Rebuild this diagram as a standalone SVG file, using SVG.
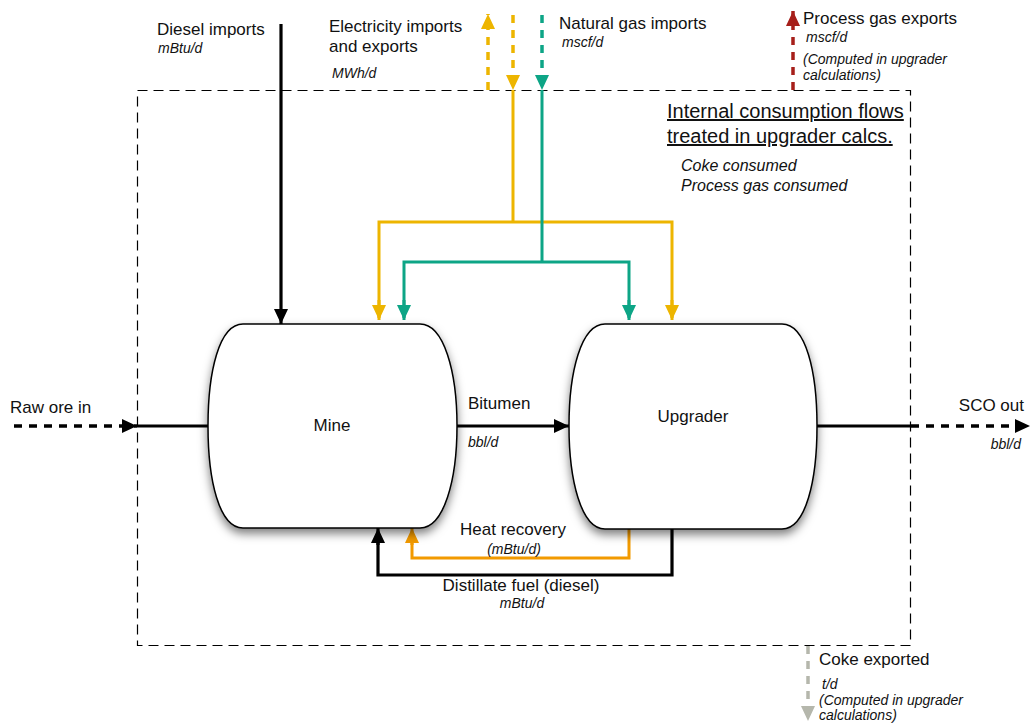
<svg xmlns="http://www.w3.org/2000/svg" width="1031" height="727" viewBox="0 0 1031 727">
<style>
text{font-family:"Liberation Sans",Arial,sans-serif;fill:#111}
.lb{font-size:17px}
.it{font-size:14px;font-style:italic}
.it2{font-size:16px;font-style:italic}
.hd{font-size:20px;text-decoration:underline}
.blk{stroke:#000;stroke-width:3.2;fill:none}
.yel{stroke:#EDB500;stroke-width:3;fill:none}
.grn{stroke:#0DA586;stroke-width:3;fill:none}
.org{stroke:#F29A00;stroke-width:3;fill:none}
.dsh{stroke-dasharray:8 7;stroke-width:3.5}
.node{fill:#fff;stroke:#000;stroke-width:1.5;filter:url(#sh)}
</style>
<defs>
<filter id="sh" x="-20%" y="-20%" width="140%" height="150%">
<feDropShadow dx="0" dy="5" stdDeviation="5" flood-color="#000" flood-opacity="0.5"/>
</filter>
<marker id="aB" markerUnits="userSpaceOnUse" markerWidth="16" markerHeight="14" refX="15" refY="7" orient="auto"><path d="M0,0 L15,7 L0,14 Z" fill="#000"/></marker>
<marker id="aY" markerUnits="userSpaceOnUse" markerWidth="16" markerHeight="14" refX="15" refY="7" orient="auto"><path d="M0,0 L15,7 L0,14 Z" fill="#EDB500"/></marker>
<marker id="aG" markerUnits="userSpaceOnUse" markerWidth="16" markerHeight="14" refX="15" refY="7" orient="auto"><path d="M0,0 L15,7 L0,14 Z" fill="#0DA586"/></marker>
<marker id="aO" markerUnits="userSpaceOnUse" markerWidth="16" markerHeight="14" refX="15" refY="7" orient="auto"><path d="M0,0 L15,7 L0,14 Z" fill="#F29A00"/></marker>
<marker id="aR" markerUnits="userSpaceOnUse" markerWidth="16" markerHeight="14" refX="15" refY="7" orient="auto"><path d="M0,0 L15,7 L0,14 Z" fill="#A61F1A"/></marker>
<marker id="aGr" markerUnits="userSpaceOnUse" markerWidth="16" markerHeight="14" refX="15" refY="7" orient="auto"><path d="M0,0 L15,7 L0,14 Z" fill="#B5B7AC"/></marker>
</defs>
<rect width="1031" height="727" fill="#fff"/>

<g id="boundary">
<rect x="137.5" y="90.5" width="773" height="555" fill="none" stroke="#000" stroke-width="1.2" stroke-dasharray="10 6"/>
<text class="hd" x="667" y="118">Internal consumption flows</text>
<text class="hd" x="667" y="143">treated in upgrader calcs.</text>
<text class="it2" x="681" y="171">Coke consumed</text>
<text class="it2" x="681" y="191">Process gas consumed</text>
</g>

<g id="connectors">
<line class="blk" x1="281" y1="24" x2="281" y2="324" marker-end="url(#aB)"/>
<line class="yel dsh" x1="488" y1="90" x2="488" y2="14" marker-end="url(#aY)"/>
<line class="yel dsh" x1="513" y1="15" x2="513" y2="90" marker-end="url(#aY)"/>
<path class="yel" d="M513,90 V222 M379,318 V222 H672 V318"/>
<line class="yel" x1="379" y1="300" x2="379" y2="320" marker-end="url(#aY)"/>
<line class="yel" x1="672" y1="300" x2="672" y2="320" marker-end="url(#aY)"/>
<line class="grn dsh" x1="542" y1="15" x2="542" y2="90" marker-end="url(#aG)"/>
<path class="grn" d="M542,90 V262 M404,318 V262 H629 V318"/>
<line class="grn" x1="404" y1="300" x2="404" y2="320" marker-end="url(#aG)"/>
<line class="grn" x1="629" y1="300" x2="629" y2="320" marker-end="url(#aG)"/>
<line class="dsh" stroke="#A61F1A" x1="793" y1="90" x2="793" y2="11" marker-end="url(#aR)"/>
<line class="dsh" stroke="#B5B7AC" x1="808" y1="646" x2="808" y2="721" marker-end="url(#aGr)"/>
<line class="blk dsh" x1="14" y1="426" x2="137" y2="426" marker-end="url(#aB)"/>
<line class="blk" x1="137" y1="426" x2="209" y2="426"/>
<line class="blk" x1="457" y1="426" x2="569" y2="426" marker-end="url(#aB)"/>
<line class="blk" x1="817" y1="426" x2="911" y2="426"/>
<line class="blk dsh" x1="911" y1="426" x2="1030" y2="426" marker-end="url(#aB)"/>
<path class="org" d="M629,529 V558 H412 V540"/>
<line class="org" x1="412" y1="545" x2="412" y2="528" marker-end="url(#aO)"/>
<path class="blk" d="M672,529 V575 H378 V540"/>
<line class="blk" x1="378" y1="545" x2="378" y2="528" marker-end="url(#aB)"/>
</g>

<g id="mine">
<path class="node" d="M243,324 H420 C444,324 457,372 457,426 C457,480 444,528 420,528 H243 C219,528 208,480 208,426 C208,372 219,324 243,324 Z"/>
<text class="lb" x="332" y="431" text-anchor="middle">Mine</text>
</g>

<g id="upgrader">
<path class="node" d="M605,324 H782 C806,324 817,372 817,426 C817,480 806,529 782,529 H605 C581,529 569,480 569,426 C569,372 581,324 605,324 Z"/>
<text class="lb" x="693" y="422" text-anchor="middle">Upgrader</text>
</g>

<g id="labels">
<text class="lb" x="157" y="35">Diesel imports</text>
<text class="it" x="158" y="53">mBtu/d</text>
<text class="lb" x="329" y="32">Electricity imports</text>
<text class="lb" x="329" y="52">and exports</text>
<text class="it" x="332" y="78">MWh/d</text>
<text class="lb" x="559" y="29">Natural gas imports</text>
<text class="it" x="562" y="47">mscf/d</text>
<text class="lb" x="803" y="24">Process gas exports</text>
<text class="it" x="806" y="42">mscf/d</text>
<text class="it" x="803" y="64">(Computed in upgrader</text>
<text class="it" x="803" y="80">calculations)</text>
<text class="lb" x="819" y="665">Coke exported</text>
<text class="it" x="822" y="689">t/d</text>
<text class="it" x="819" y="705">(Computed in upgrader</text>
<text class="it" x="819" y="720">calculations)</text>
<text class="lb" x="10" y="413">Raw ore in</text>
<text class="lb" x="1024" y="411" text-anchor="end">SCO out</text>
<text class="it" x="1021" y="449" text-anchor="end">bbl/d</text>
<text class="lb" x="468" y="409">Bitumen</text>
<text class="it" x="468" y="447">bbl/d</text>
<text class="lb" x="513" y="535" text-anchor="middle">Heat recovery</text>
<text class="it" x="514" y="554" text-anchor="middle">(mBtu/d)</text>
<text class="lb" x="521" y="591" text-anchor="middle">Distillate fuel (diesel)</text>
<text class="it" x="522" y="608" text-anchor="middle">mBtu/d</text>
</g>
</svg>
